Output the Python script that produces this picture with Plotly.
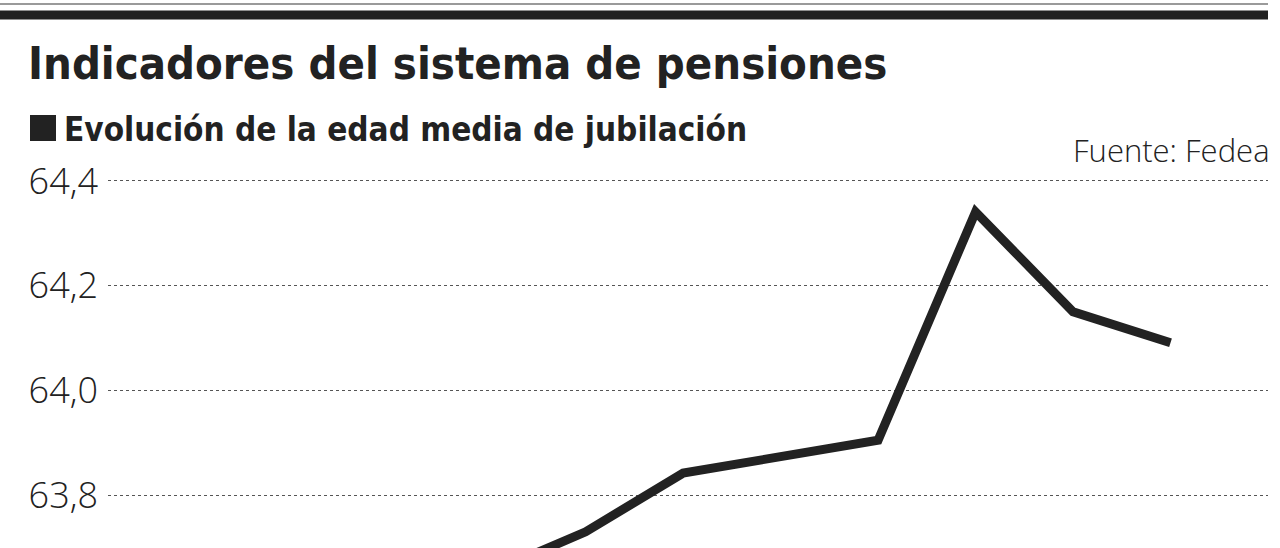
import plotly.graph_objects as go

# Data
years = [2012, 2013, 2014, 2015, 2016, 2017, 2018, 2019]
edad_media = [63.65, 63.73, 63.842, 63.873, 63.905, 64.341, 64.150, 64.091]
y_ticks = [63.8, 64.0, 64.2, 64.4]
y_tick_labels = ["63,8", "64,0", "64,2", "64,4"]

W, H = 1280, 548
ML, MR, MT, MB = 108, 12, 170, 0
PW, PH = W - ML - MR, H - MT - MB


def px(x):  # screen x -> paper
    return (x - ML) / PW


def py(y):  # screen y -> paper
    return (H - MB - y) / PH


fig = go.Figure()
fig.add_trace(go.Scatter(
    x=years, y=edad_media, mode="lines",
    line=dict(color="#222222", width=9),
    hoverinfo="skip", showlegend=False,
))

fig.update_layout(
    width=W, height=H,
    margin=dict(l=ML, r=MR, t=MT, b=MB),
    paper_bgcolor="white", plot_bgcolor="white",
    xaxis=dict(range=[2008.1, 2020.0], visible=False, showgrid=False, zeroline=False),
    yaxis=dict(
        range=[63.699, 64.421],
        tickvals=y_ticks, ticktext=y_tick_labels,
        showgrid=True, gridcolor="#555555", gridwidth=1, griddash="3px,3px",
        zeroline=False, showline=False, ticks="",
        tickfont=dict(family="Open Sans", size=36, color="#222222", weight=300),
        ticklabelstandoff=9,
    ),
    font=dict(family="Open Sans"),
)

shapes = [
    dict(type="line", xref="paper", yref="paper", x0=px(0), x1=px(1268), y0=py(4), y1=py(4),
         line=dict(color="#9a9a9a", width=2)),
    dict(type="line", xref="paper", yref="paper", x0=px(0), x1=px(1268), y0=py(15), y1=py(15),
         line=dict(color="#222222", width=9)),
    dict(type="rect", xref="paper", yref="paper", x0=px(30), x1=px(56), y0=py(141), y1=py(115),
         fillcolor="#222222", line=dict(width=0)),
]
fig.update_layout(shapes=shapes)

fig.add_annotation(
    text="<b>Indicadores del sistema de pensiones</b>",
    xref="paper", yref="paper", x=px(26), y=py(64), xanchor="left", yanchor="middle",
    showarrow=False,
    font=dict(family="DejaVu Sans Condensed", size=45, color="#222222"),
)
fig.add_annotation(
    text="<b>Evolución de la edad media de jubilación</b>",
    xref="paper", yref="paper", x=px(62), y=py(129), xanchor="left", yanchor="middle",
    showarrow=False,
    font=dict(family="DejaVu Sans Condensed", size=33, color="#222222"),
)
fig.add_annotation(
    text="Fuente: Fedea",
    xref="paper", yref="paper", x=px(1272), y=py(150), xanchor="right", yanchor="middle",
    showarrow=False,
    font=dict(family="Open Sans", size=31, color="#222222", weight=300),
)

fig.write_html(
    "out.html",
    config={"displayModeBar": False, "staticPlot": True},
    post_script="document.body.style.margin='0';document.body.style.padding='0';",
)
